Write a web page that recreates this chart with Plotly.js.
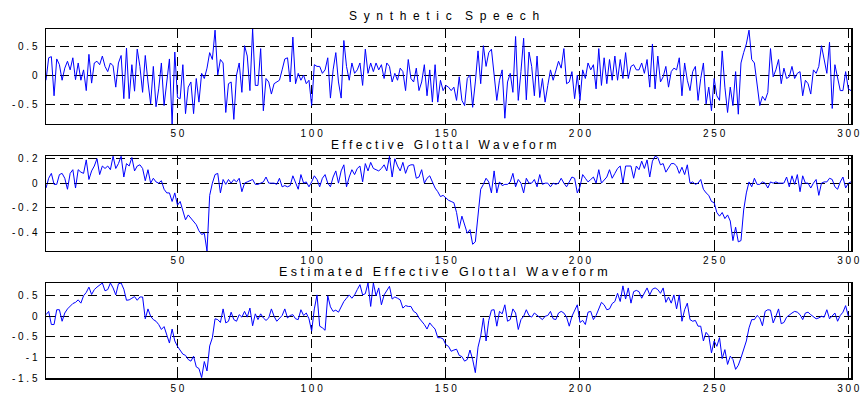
<!DOCTYPE html>
<html>
<head>
<meta charset="utf-8">
<script src="https://cdn.plot.ly/plotly-3.0.1.min.js"></script>
<style>html,body{margin:0;padding:0;background:#fff;}#chart{width:868px;height:397px;}</style>
</head>
<body>
<div id="chart"></div>
<script>
// ---- data (sample index 1..301) ----
const sampleIndex = Array.from({length: 301}, (_, i) => i + 1);

const syntheticSpeech = [
-0.08,0.31,0.33,-0.35,0.29,0.19,-0.08,0.13,0.25,0.10,
0.31,-0.07,0.22,-0.08,0.10,-0.26,0.37,-0.13,0.22,0.25,
0.19,0.34,0.16,0.07,0.22,0.17,-0.20,0.22,0.35,-0.40,
0.48,-0.40,0.19,-0.27,0.46,0.16,-0.29,0.35,-0.11,-0.49,
0.16,-0.54,-0.23,0.22,-0.52,-0.11,0.29,-0.84,0.41,-0.38,
-0.40,0.19,-0.66,-0.20,-0.11,-0.66,-0.05,-0.46,0.04,-0.05,
0.13,0.40,0.28,0.79,0.01,0.28,0.22,-0.64,-0.14,-0.11,
-0.76,0.01,0.22,-0.29,
0.52,0.34,-0.26,0.81,-0.17,-0.17,
0.47,-0.61,-0.05,-0.11,-0.32,-0.14,-0.11,-0.08,0.10,0.29,
0.31,-0.11,0.67,-0.14,0.04,-0.08,0.01,-0.14,-0.08,-0.52,
0.19,0.16,0.16,0.04,0.10,0.31,-0.39,0.10,0.40,-0.11,
-0.39,0.61,0.16,-0.08,0.22,0.04,0.10,0.22,-0.17,0.46,
0.04,0.22,0.07,0.22,0.10,0.19,-0.05,0.22,0.16,-0.11,
0.04,-0.08,0.13,0.07,-0.26,0.28,-0.05,-0.11,0.13,-0.26,
-0.11,0.19,-0.35,0.10,-0.46,0.19,-0.46,-0.08,-0.26,-0.17,
-0.20,-0.26,-0.20,
-0.43,-0.02,-0.43,-0.52,-0.05,0.01,-0.55,
-0.11,0.43,-0.14,0.52,0.16,0.40,0.46,-0.02,-0.43,-0.08,
0.10,-0.74,-0.11,0.04,-0.29,0.68,-0.43,0.07,0.65,-0.42,
0.41,0.16,-0.35,0.34,-0.38,-0.05,-0.46,-0.17,0.10,-0.08,
0.07,0.25,0.13,0.47,-0.14,-0.11,0.07,-0.40,0.01,-0.43,
0.10,-0.05,0.22,0.10,0.19,-0.23,0.47,-0.17,0.31,-0.14,
0.28,-0.08,0.34,-0.08,0.28,-0.05,0.40,-0.05,0.16,0.19,
0.10,0.10,0.22,0.04,0.28,-0.20,0.55,-0.23,0.34,
-0.11,-0.02,0.16,-0.20,0.07,0.13,0.10,0.31,-0.35,0.22,
-0.08,-0.26,0.07,0.16,-0.43,-0.05,0.22,-0.49,-0.20,-0.61,
-0.05,-0.35,-0.43,0.43,-0.20,-0.64,-0.20,-0.52,0.07,-0.67,
0.22,0.40,0.55,0.79,0.28,0.22,-0.20,-0.52,-0.36,-0.43,
-0.29,0.47,-0.02,0.10,0.28,-0.14,0.13,-0.05,-0.02,0.16,
-0.05,0.04,0.07,-0.35,-0.08,-0.14,-0.32,0.10,0.04,0.16,
0.52,0.28,0.04,0.58,-0.57,0.19,-0.05,-0.26,-0.26,0.07,
-0.23,-0.26
];

const glottalWaveform = [
-0.04,0.04,0.08,-0.01,-0.01,0.07,0.08,0.04,-0.05,0.08,
0.11,-0.04,0.11,0.09,0.08,0.19,0.03,0.10,0.14,0.20,
0.07,0.14,0.12,0.14,0.11,0.22,0.12,0.16,0.22,0.05,
0.16,0.14,0.21,0.10,0.14,0.15,0.12,0.02,0.11,0.00,
0.04,0.01,0.00,0.02,-0.05,-0.08,-0.08,-0.15,-0.08,-0.18,
-0.15,-0.22,-0.30,-0.26,-0.29,-0.31,-0.34,-0.39,-0.42,-0.41,
-0.555,-0.10,0.00,0.07,0.08,-0.08,0.03,-0.01,0.03,0.00,
0.03,0.01,0.04,-0.07,0.00,0.01,0.02,
0.03,-0.01,-0.01,0.00,0.01,0.05,0.00,0.00,0.00,-0.01,
0.04,-0.03,-0.02,-0.03,-0.02,0.06,0.01,-0.05,0.07,0.00,
0.01,-0.03,0.01,0.06,0.03,-0.03,0.04,0.07,0.00,-0.03,
0.05,0.10,0.00,0.10,0.15,-0.03,0.05,0.11,0.07,0.12,
0.14,0.01,0.16,0.10,0.17,0.12,0.11,0.10,0.12,0.15,
0.10,0.22,0.05,0.20,0.14,0.10,0.17,0.08,0.14,0.15,
0.15,0.04,0.05,0.11,0.00,0.04,0.06,0.01,-0.04,-0.07,
-0.11,-0.10,-0.12,-0.14,-0.15,-0.16,
-0.24,-0.37,-0.27,-0.35,-0.41,-0.38,-0.50,-0.48,-0.29,-0.05,
-0.01,0.04,0.01,-0.08,0.10,-0.08,0.01,-0.02,-0.01,-0.01,
0.01,0.08,-0.03,0.03,0.00,-0.08,0.04,0.00,0.00,0.03,
-0.03,0.07,-0.01,0.00,0.00,-0.03,0.00,-0.01,0.00,0.04,
0.00,-0.03,0.01,0.05,0.04,-0.08,-0.03,0.07,0.04,0.01,
0.03,0.05,0.00,0.11,0.00,0.03,0.05,0.11,0.04,0.08,
0.12,0.14,0.00,0.14,0.14,0.14,0.04,0.14,0.11,0.18,
0.12,0.19,0.05,0.18,0.22,0.21,
0.15,0.16,0.09,0.13,0.16,0.16,0.14,0.08,0.13,0.07,
0.15,0.00,0.01,-0.01,0.00,0.03,-0.05,-0.08,-0.10,-0.15,
-0.16,-0.24,-0.27,-0.24,-0.29,-0.26,-0.31,-0.47,-0.36,-0.48,
-0.47,-0.22,-0.08,0.01,-0.03,0.04,-0.01,-0.01,0.01,0.00,
-0.04,0.01,0.00,0.01,0.00,0.00,0.00,0.05,-0.03,0.06,
-0.01,0.07,-0.07,0.06,0.00,0.00,-0.04,0.00,0.03,-0.10,
0.00,0.01,0.01,0.04,0.03,-0.03,-0.05,0.01,0.05,-0.04,
0.00,0.01
];

const estimatedGlottal = [
0.04,0.12,-0.20,-0.20,0.16,0.16,-0.12,0.08,0.18,0.24,
0.31,0.34,0.40,0.32,0.50,0.58,0.71,0.53,0.65,0.71,
0.76,0.81,0.62,0.65,0.81,0.69,0.52,0.79,0.81,0.66,
0.39,0.40,0.44,0.48,0.39,0.47,0.47,-0.06,0.18,0.00,
-0.08,-0.12,-0.20,-0.32,-0.25,-0.44,-0.65,-0.31,-0.60,-0.73,
-0.83,-0.92,-0.95,-1.05,-1.09,-0.97,-1.23,-1.27,-1.49,-1.10,
-1.33,-0.72,-0.52,-0.06,-0.08,-0.15,0.18,-0.16,-0.12,0.10,
-0.08,-0.12,0.04,-0.02,0.12,-0.02,0.20,
-0.23,0.06,-0.08,0.06,-0.04,-0.10,-0.04,0.18,0.00,-0.12,
-0.04,0.02,0.18,-0.04,0.02,0.04,-0.06,-0.08,0.16,0.02,
0.08,-0.06,-0.36,0.18,0.52,-0.24,-0.28,-0.34,0.50,0.23,
0.12,0.15,0.10,0.24,0.36,0.44,0.52,0.44,0.52,0.65,
0.77,0.52,0.55,0.81,0.24,0.81,0.50,0.69,0.28,0.52,
0.63,0.73,0.42,0.47,0.44,0.40,0.20,0.26,0.24,0.24,
0.12,0.08,-0.04,-0.12,-0.20,-0.31,-0.16,-0.24,-0.31,-0.52,
-0.52,-0.55,-0.69,-0.73,-0.85,-0.82,
-0.80,-0.95,-0.98,-1.09,-1.05,-0.82,-1.05,-1.37,-0.75,-0.48,
-0.04,-0.60,-0.10,0.15,0.16,-0.24,0.12,0.06,0.28,-0.12,
-0.08,0.18,0.08,-0.32,-0.08,0.00,0.16,0.02,-0.02,0.08,
0.02,-0.02,-0.08,0.00,0.02,0.12,-0.06,-0.08,0.08,0.12,
0.08,-0.02,-0.24,0.00,0.16,0.28,-0.15,-0.10,-0.20,0.10,
0.12,-0.08,0.02,0.20,0.34,0.28,0.16,0.18,0.31,0.36,
0.56,0.36,0.74,0.42,0.69,0.32,0.60,0.63,0.60,0.44,
0.58,0.69,0.52,0.66,0.69,0.65,
0.56,0.69,0.34,0.47,0.32,0.52,0.18,0.52,-0.12,0.16,
0.32,-0.08,-0.12,-0.10,-0.24,-0.24,-0.60,-0.39,-0.47,-0.89,
-0.60,-0.73,-0.52,-1.03,-0.81,-1.17,-0.97,-1.05,-1.29,-1.19,
-1.01,-0.77,-0.60,-0.28,-0.08,-0.08,0.02,-0.04,-0.23,0.12,
0.16,0.15,-0.16,0.00,0.18,-0.18,-0.15,-0.02,0.04,0.08,
0.12,0.10,0.04,-0.08,0.08,0.10,0.04,-0.02,-0.06,-0.04,
0.00,-0.02,0.16,-0.06,0.00,0.08,-0.12,0.02,0.10,0.26,
0.00,0.00
];

const panelTitles = [
  "S\u00A0\u00A0y\u00A0\u00A0n\u00A0\u00A0t\u00A0\u00A0h\u00A0\u00A0e\u00A0\u00A0t\u00A0\u00A0i\u00A0\u00A0c\u00A0\u00A0\u00A0\u00A0S\u00A0\u00A0p\u00A0\u00A0e\u00A0\u00A0e\u00A0\u00A0c\u00A0\u00A0h",
  "E\u00A0f\u00A0f\u00A0e\u00A0c\u00A0t\u00A0i\u00A0v\u00A0e\u00A0\u00A0\u00A0G\u00A0l\u00A0o\u00A0t\u00A0t\u00A0a\u00A0l\u00A0\u00A0\u00A0W\u00A0a\u00A0v\u00A0e\u00A0f\u00A0o\u00A0r\u00A0m",
  "E\u00A0s\u00A0t\u00A0i\u00A0m\u00A0a\u00A0t\u00A0e\u00A0d\u00A0\u00A0\u00A0E\u00A0f\u00A0f\u00A0e\u00A0c\u00A0t\u00A0i\u00A0v\u00A0e\u00A0\u00A0\u00A0G\u00A0l\u00A0o\u00A0t\u00A0t\u00A0a\u00A0l\u00A0\u00A0\u00A0W\u00A0a\u00A0v\u00A0e\u00A0f\u00A0o\u00A0r\u00A0m"
];

const xTickVals = [50, 100, 150, 200, 250, 300];
const xTickText = ["5\u00A00", "1\u00A00\u00A00", "1\u00A05\u00A00", "2\u00A00\u00A00", "2\u00A05\u00A00", "3\u00A00\u00A00"];

const y1TickVals = [-0.5, 0, 0.5];
const y1TickText = ["-\u00A00\u00A0.\u00A05", "0", "0\u00A0.\u00A05"];
const y2TickVals = [-0.4, -0.2, 0, 0.2];
const y2TickText = ["-\u00A00\u00A0.\u00A04", "-\u00A00\u00A0.\u00A02", "0", "0\u00A0.\u00A02"];
const y3TickVals = [-1.5, -1, -0.5, 0, 0.5];
const y3TickText = ["-\u00A01\u00A0.\u00A05", "-\u00A01", "-\u00A00\u00A0.\u00A05", "0", "0\u00A0.\u00A05"];

// ---- figure ----
const lineStyle = {color: "#0000ff", width: 1};
const traces = [
  {x: sampleIndex, y: syntheticSpeech, xaxis: "x", yaxis: "y", type: "scatter", mode: "lines", line: lineStyle, hoverinfo: "none"},
  {x: sampleIndex, y: glottalWaveform, xaxis: "x2", yaxis: "y2", type: "scatter", mode: "lines", line: lineStyle, hoverinfo: "none"},
  {x: sampleIndex, y: estimatedGlottal, xaxis: "x3", yaxis: "y3", type: "scatter", mode: "lines", line: lineStyle, hoverinfo: "none"}
];

const tickFont = {family: "Liberation Sans, Arial, sans-serif", size: 10, color: "#000"};
function xAxis(anchor) {
  return {
    anchor: anchor, range: [1, 301], tickmode: "array", tickvals: xTickVals, ticktext: xTickText,
    showline: true, linecolor: "#000", linewidth: 1.5, mirror: "ticks",
    ticks: "inside", ticklen: 4, tickcolor: "#000", tickwidth: 1,
    showgrid: true, gridcolor: "#000", gridwidth: 1, griddash: "9px,5px",
    zeroline: false, tickfont: tickFont, fixedrange: true
  };
}
function yAxis(anchor, domain, range, vals, text) {
  return {
    anchor: anchor, domain: domain, range: range, tickmode: "array", tickvals: vals, ticktext: text,
    showline: true, linecolor: "#000", linewidth: 1.5, mirror: "ticks",
    ticks: "inside", ticklen: 4, tickcolor: "#000", tickwidth: 1,
    showgrid: true, gridcolor: "#000", gridwidth: 1, griddash: "9px,5px",
    zeroline: false, tickfont: tickFont, fixedrange: true, ticklabelstandoff: 5
  };
}

const d1 = [0.7278, 1.0];
const d2 = [0.3639, 0.6361];
const d3 = [0.0, 0.2722];

const titleFont = {family: "Liberation Sans, Arial, sans-serif", size: 12, color: "#000"};
const titleFont3 = {family: "Liberation Sans, Arial, sans-serif", size: 12.5, color: "#000"};
const annotations = [
  {text: panelTitles[0], xref: "paper", yref: "paper", x: 0.494, y: d1[1], xanchor: "center", yanchor: "middle", yshift: 13, showarrow: false, font: titleFont},
  {text: panelTitles[1], xref: "paper", yref: "paper", x: 0.494, y: d2[1], xanchor: "center", yanchor: "middle", yshift: 11, showarrow: false, font: titleFont},
  {text: panelTitles[2], xref: "paper", yref: "paper", x: 0.494, y: d3[1], xanchor: "center", yanchor: "middle", yshift: 11, showarrow: false, font: titleFont3}
];

const layout = {
  width: 868, height: 397,
  margin: {l: 46, r: 17, t: 29, b: 19, pad: 0},
  paper_bgcolor: "#fff", plot_bgcolor: "#fff",
  showlegend: false,
  xaxis: xAxis("y"),
  xaxis2: xAxis("y2"),
  xaxis3: xAxis("y3"),
  yaxis: yAxis("x", d1, [-0.84, 0.81], y1TickVals, y1TickText),
  yaxis2: yAxis("x2", d2, [-0.555, 0.222], y2TickVals, y2TickText),
  yaxis3: yAxis("x3", d3, [-1.5, 0.81], y3TickVals, y3TickText),
  annotations: annotations
};

Plotly.newPlot("chart", traces, layout, {staticPlot: true, displayModeBar: false});
</script>
</body>
</html>
